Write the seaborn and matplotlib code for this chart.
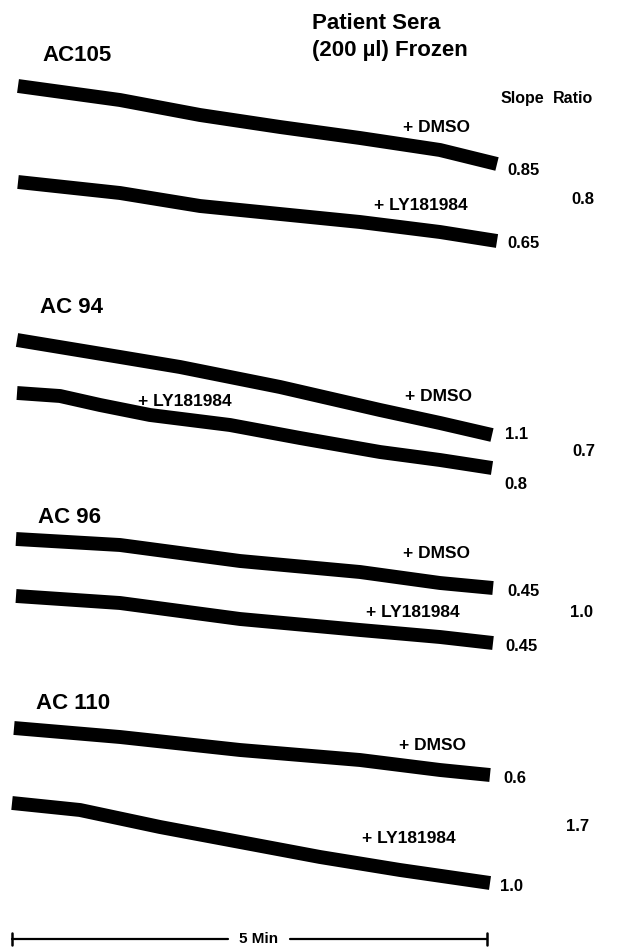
import matplotlib
matplotlib.use("Agg")
import matplotlib.pyplot as plt
import seaborn as sns
import pandas as pd

patients = ["AC105", "AC 94", "AC 96", "AC 110"]
treatments = ["+ DMSO", "+ LY181984"]
slopes_dmso = ["0.85", "1.1", "0.45", "0.6"]
slopes_ly = ["0.65", "0.8", "0.45", "1.0"]
ratios = ["0.8", "0.7", "1.0", "1.7"]

ac105_dmso_x = [18, 120, 200, 280, 360, 440, 497]
ac105_dmso_y = [86, 100, 115, 127, 138, 150, 164]
ac105_ly_x = [18, 120, 200, 280, 360, 440, 497]
ac105_ly_y = [182, 193, 206, 214, 222, 232, 241]

ac94_dmso_x = [17, 120, 180, 280, 380, 440, 492]
ac94_dmso_y = [340, 357, 367, 387, 410, 423, 435]
ac94_ly_x = [17, 60, 100, 150, 230, 300, 380, 440, 492]
ac94_ly_y = [393, 396, 405, 415, 425, 438, 452, 460, 468]

ac96_dmso_x = [16, 120, 240, 360, 440, 493]
ac96_dmso_y = [539, 545, 561, 572, 583, 588]
ac96_ly_x = [16, 120, 240, 360, 440, 493]
ac96_ly_y = [596, 603, 619, 630, 637, 643]

ac110_dmso_x = [14, 120, 240, 360, 440, 490]
ac110_dmso_y = [728, 737, 750, 760, 770, 775]
ac110_ly_x = [12, 80, 160, 240, 320, 400, 490]
ac110_ly_y = [803, 810, 827, 842, 857, 870, 883]

traces = {
    "AC105 DMSO": (ac105_dmso_x, ac105_dmso_y),
    "AC105 LY": (ac105_ly_x, ac105_ly_y),
    "AC94 DMSO": (ac94_dmso_x, ac94_dmso_y),
    "AC94 LY": (ac94_ly_x, ac94_ly_y),
    "AC96 DMSO": (ac96_dmso_x, ac96_dmso_y),
    "AC96 LY": (ac96_ly_x, ac96_ly_y),
    "AC110 DMSO": (ac110_dmso_x, ac110_dmso_y),
    "AC110 LY": (ac110_ly_x, ac110_ly_y),
}
rows = []
for name, (xs, ys) in traces.items():
    for xv, yv in zip(xs, ys):
        rows.append({"trace": name, "x": xv, "y": yv})
df = pd.DataFrame(rows)

# ---- figure ----
sns.set_theme(style="white")
plt.rcParams["font.family"] = ["Liberation Sans", "DejaVu Sans"]

W, H = 621, 947
fig = plt.figure(figsize=(W / 100, H / 100), dpi=100)
ax = fig.add_axes([0, 0, 1, 1])
ax.set_xlim(0, W)
ax.set_ylim(H, 0)
ax.axis("off")

sns.lineplot(data=df, x="x", y="y", units="trace", estimator=None, sort=False,
             color="black", lw=10, ax=ax, legend=False, solid_capstyle="butt")

bold = dict(fontweight="bold", color="black")

# header
ax.text(312, 23, "Patient Sera", fontsize=16, ha="left", va="center", **bold)
ax.text(312, 50, "(200 µl) Frozen", fontsize=16, ha="left", va="center", **bold)
ax.text(501, 98, "Slope", fontsize=11.5, ha="left", va="center", **bold)
ax.text(553, 98, "Ratio", fontsize=11.5, ha="left", va="center", **bold)

# patient labels
label_pos = [(42, 55), (40, 307), (38, 517), (36, 703)]
for (lx, ly), p in zip(label_pos, patients):
    ax.text(lx, ly, p, fontsize=16, ha="left", va="center", **bold)

# treatment labels (right edge, centre y)
dmso_lab = [(470, 127), (472, 396), (470, 553), (466, 745)]
ly_lab = [(468, 205), (232, 401), (460, 612), (456, 838)]
for (x1, y1), (x2, y2) in zip(dmso_lab, ly_lab):
    ax.text(x1, y1, treatments[0], fontsize=12.5, ha="right", va="center", **bold)
    ax.text(x2, y2, treatments[1], fontsize=12.5, ha="right", va="center", **bold)

# slopes and ratios
s_dmso_pos = [(507, 170), (505, 434), (507, 591), (503, 778)]
s_ly_pos = [(507, 243), (504, 484), (505, 646), (500, 886)]
r_pos = [(571, 199), (572, 451), (570, 612), (566, 826)]
for i in range(4):
    ax.text(*s_dmso_pos[i], slopes_dmso[i], fontsize=12, ha="left", va="center", **bold)
    ax.text(*s_ly_pos[i], slopes_ly[i], fontsize=12, ha="left", va="center", **bold)
    ax.text(*r_pos[i], ratios[i], fontsize=12, ha="left", va="center", **bold)

# scale bar
yb = 939
ax.plot([12, 228], [yb, yb], color="black", lw=1.6)
ax.plot([290, 487], [yb, yb], color="black", lw=1.6)
ax.plot([12, 12], [yb - 6, yb + 6], color="black", lw=1.8)
ax.plot([487, 487], [yb - 6, yb + 6], color="black", lw=1.8)
ax.text(259, yb, "5 Min", fontsize=11, ha="center", va="center", **bold)

fig.savefig("out.png", dpi=100, facecolor="white")
